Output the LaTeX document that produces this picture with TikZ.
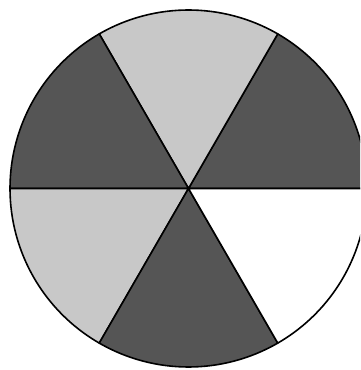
\documentclass[tikz,border=0pt]{standalone}
\usepackage{xcolor}
\definecolor{darkgray}{RGB}{85,85,85}
\definecolor{lightgray}{RGB}{200,200,200}

\begin{document}
\begin{tikzpicture}[
        x=1pt, y=1pt,
        sector/.style={fill=#1, draw=black, line width=1.6pt, line join=round}
    ]

    % Frame and clip (the disc runs past the right edge)
    \useasboundingbox (0,0) rectangle (360,370);
    \clip (0,0) rectangle (360,370);

    \coordinate (c) at (188.5,181.5);

    % Six sectors, counterclockwise from the right
    \foreach \a/\col in {0/darkgray, 60/lightgray, 120/darkgray, 180/lightgray, 240/darkgray, 300/white} {
        \draw[sector=\col] (c) -- ++(\a:178.5) arc[start angle=\a, end angle=\a+60, radius=178.5] -- cycle;
    }

\end{tikzpicture}
\end{document}
